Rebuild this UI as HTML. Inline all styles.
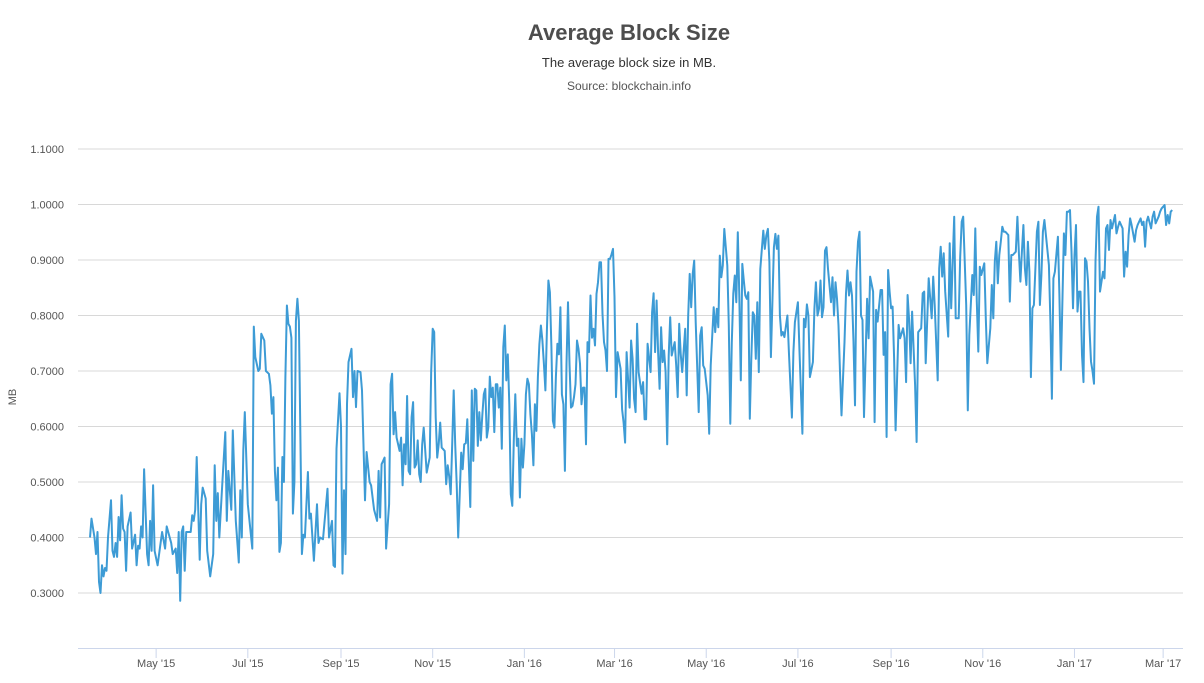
<!DOCTYPE html>
<html><head><meta charset="utf-8">
<style>
body{margin:0;background:#fff;font-family:"Liberation Sans",Arial,sans-serif;}
svg{display:block}
</style></head>
<body>
<svg id="chart" width="1204" height="683" viewBox="0 0 1204 683" xmlns="http://www.w3.org/2000/svg">
<text x="629" y="40" text-anchor="middle" font-size="22" font-weight="bold" fill="#4d4d4d">Average Block Size</text>
<text x="629" y="67" text-anchor="middle" font-size="13" fill="#333">The average block size in MB.</text>
<text x="629" y="90" text-anchor="middle" font-size="12" fill="#555">Source: blockchain.info</text>
<text transform="translate(16,397) rotate(-90)" text-anchor="middle" font-size="11" fill="#555">MB</text>
<g id="grid"></g>
<g id="xaxis"></g>
<g id="yaxis"></g>
<path id="line" fill="none" stroke="#3d9bd5" stroke-width="2" stroke-linejoin="round"></path>
</svg>
<script>
// days since 2015-03-18, values in MB
const days1=[0,1,3,4,5,6,7,8,9,10,
11,12,14,15,16,17,18,19,20,21,
22,23,24,25,27,28,30,31,32,33,
34,35,36,38,39,40,41,42,43,45,
47,48,50,51,53,54,55,57,58,59,
60,61,62,63,64,67,68,69,70,71,
73,74,75,77,78,80,81,82,83,84,
85,86,88,90,91,92,94,95,97,99,
100,101,102,103,105,108,109,110,112,113,
114,116,117,119,120,121,122,123,124,125,
126,127,128,129,130,131,132,133,134,135,
136,137,138,139,141,142,143,145,146,147,
149,151,152,153,155,158,159,161,162,163,
164,166,167,168,169,170,171,172,174,175,
176,177,178,180,181,183,184,186,187,189,
191,192,193];
const values1=[.40,.434,.40,.37,.41,.32,.30,.35,.33,.345,
.34,.40,.467,.376,.365,.39,.365,.437,.395,.476,
.416,.41,.34,.42,.445,.38,.405,.35,.385,.38,
.42,.40,.523,.37,.35,.43,.376,.494,.376,.35,
.39,.41,.38,.42,.40,.39,.37,.38,.336,.41,
.286,.41,.42,.34,.41,.41,.44,.43,.45,.545,
.36,.46,.49,.47,.376,.33,.35,.37,.53,.43,
.48,.40,.497,.59,.43,.52,.45,.593,.43,.355,
.485,.40,.557,.626,.46,.38,.78,.725,.70,.704,
.767,.755,.70,.695,.674,.623,.653,.52,.467,.526,
.374,.39,.545,.50,.69,.818,.785,.78,.76,.443,
.50,.79,.83,.79,.37,.405,.40,.518,.434,.443,
.358,.46,.39,.40,.397,.488,.40,.43,.35,.347,
.56,.66,.60,.335,.485,.37,.64,.716,.74,.653,
.70,.635,.70,.698,.665,.467,.554,.50,.494,.45,
.43,.52,.436];
const days2=[194,196,197,199,200,201,202,203,204,206,
207,208,209,210,211,212,213,214,215,216,
217,218,219,220,221,222,224,226,227,228,
229,230,231,232,233,234,236,237,238,239,
240,241,242,243,244,245,247,248,249,250,
251,253,254,255,256,257,258,259,260,261,
262,263,264,265,266,267,268,269,270,271,
272,273,274,275,276,277,278,279,280,281,
282,283,284,285,286,287,288,289,290,291,
292,293,294,295,296,297,298,299,300,301,
302,303,304,305,306,307,308,309,310,311,
312,313,314,315,316,317,318,319,320,321,
322,323,324,325,326,327,328,329,330,331,
332,333,334,335,336,337,338,339,340,341,
342,343,344,345,346,347,348,349];
const values2=[.532,.544,.38,.46,.676,.695,.586,.626,.58,.556,
.58,.494,.568,.532,.655,.52,.514,.617,.644,.526,
.532,.575,.514,.50,.568,.598,.517,.544,.70,.776,
.77,.617,.544,.568,.607,.562,.556,.496,.53,.51,
.478,.568,.665,.568,.496,.40,.553,.523,.568,.57,
.613,.455,.665,.538,.668,.665,.565,.626,.575,.62,
.658,.668,.58,.598,.69,.653,.67,.59,.676,.676,
.634,.67,.56,.743,.782,.683,.73,.64,.478,.457,
.575,.658,.565,.578,.472,.578,.526,.568,.658,.686,
.676,.622,.586,.53,.64,.592,.69,.749,.782,.755,
.713,.665,.773,.863,.842,.743,.61,.598,.69,.749,
.73,.815,.658,.64,.52,.713,.824,.713,.634,.637,
.653,.676,.755,.74,.713,.64,.67,.67,.568,.752,
.734,.836,.76,.776,.746,.839,.86,.896,.896,.803,
.752,.737,.70,.902,.902,.91,.92,.833];
const days3=[350,351,353,354,355,356,357,359,360,361,
362,363,364,365,367,368,369,370,371,373,
374,375,376,377,378,379,380,381,382,383,
384,385,386,387,389,390,391,392,393,394,
396,397,398,399,400,401,402,403,405,406,
407,408,409,411,412,413,415,416,417,418,
419,420,421,422,424,425,426,427,428,429,
430,431,432,433,434,435,436,437,438,439,
440,441,442,443,444,445,446,448,449,450,
451,452,453,454,455,456,457,458,459,460,
461,462,464,465,467,468,469,471,472,474,
475,476,477,478,479,481,482,483,484,485,
486,487,488,489,490,491,493,494,495,496,
497,498,499,500,502,503,504,505,506,507,
508,509];
const values3=[.653,.734,.704,.631,.607,.571,.734,.634,.755,.722,
.65,.626,.785,.698,.659,.68,.613,.613,.749,.698,
.806,.84,.734,.827,.734,.668,.779,.716,.737,.698,
.568,.728,.797,.728,.752,.71,.653,.785,.731,.698,
.776,.656,.80,.875,.815,.875,.899,.788,.626,.764,
.779,.71,.704,.656,.587,.71,.815,.77,.812,.779,
.908,.869,.89,.956,.89,.782,.605,.752,.84,.872,
.824,.95,.836,.683,.893,.863,.836,.83,.842,.614,
.722,.806,.80,.722,.824,.698,.884,.953,.92,.944,
.956,.896,.725,.824,.923,.947,.92,.944,.80,.764,
.77,.761,.80,.734,.616,.734,.788,.824,.74,.587,
.794,.779,.82,.80,.689,.716,.812,.86,.80,.812,
.863,.797,.815,.917,.923,.884,.824,.869,.80,.86,
.83,.782,.698,.62,.752,.84,.881,.836,.86,.836,
.752,.638];
const days4=[510,511,512,513,514,515,517,518,519,521,
522,523,524,526,527,528,529,530,531,532,
533,534,535,536,538,539,541,542,543,544,
545,546,547,549,550,551,553,554,555,556,
558,560,561,562,564,565,566,567,568,569,
571,572,573,574,575,576,578,579,580,581,
583,584,585,587,588,589,590,591,592,593,
595,596,597,599,600,601,602,603,604,605,
606,607,608,609,611,612,613,614,616,617,
618,619,620,621,622,623,624,625,626,627,
628,630,631,632,633,634,635,636,638,639,
640,641,642,644,645,646,648,649,650,651,
652,653,654,655,656,657,658,659,660,661,
662,663,664,665,666];
const values4=[.879,.933,.951,.80,.792,.617,.83,.759,.87,.843,
.608,.81,.789,.846,.846,.729,.77,.581,.882,.843,
.813,.816,.723,.593,.783,.759,.777,.759,.68,.837,
.792,.714,.807,.674,.572,.77,.777,.84,.843,.714,
.867,.795,.87,.819,.683,.885,.924,.87,.912,.843,
.762,.93,.813,.897,.978,.795,.795,.906,.969,.978,
.819,.629,.765,.873,.837,.957,.825,.735,.888,.873,
.894,.795,.714,.777,.855,.795,.897,.933,.858,.909,
.933,.96,.951,.951,.945,.825,.909,.909,.915,.978,
.912,.861,.915,.963,.885,.855,.933,.879,.689,.813,
.819,.951,.969,.819,.873,.951,.972,.945,.891,.789,
.65,.867,.879,.942,.837,.702,.948,.909,.987,.987,
.99,.915,.813,.909,.963,.807,.843,.843,.729,.68,
.903,.897,.861,.777,.717];
const days5=[667,668,669,670,671,672,674,675,676,677,
678,679,680,681,682,683,684,685,687,688,
689,690,691,692,693,695,696,697,699,700,
701,702,703,704,706,707,708,709,711,712,
713,715,716,717,718,719,720];
const values5=[.70,.677,.897,.978,.996,.843,.879,.867,.957,.963,
.918,.972,.957,.969,.981,.948,.96,.969,.957,.87,
.915,.888,.945,.975,.963,.933,.954,.963,.975,.963,
.969,.924,.969,.978,.957,.978,.987,.966,.978,.987,
.993,.999,.963,.981,.966,.987,.99];
const yTicks=[0.3,0.4,0.5,0.6,0.7,0.8,0.9,1.0,1.1];
const xTickDays=[44,105,167,228,289,349,410,471,533,594,655,714];
const xTickLabels=["May '15","Jul '15","Sep '15","Nov '15","Jan '16","Mar '16","May '16","Jul '16","Sep '16","Nov '16","Jan '17","Mar '17"];

const NS="http://www.w3.org/2000/svg";
function xScale(d){return 90+d*1.503;}
function yScale(v){return 593-(v-0.3)*555;}
const days=days1.concat(days2,days3,days4,days5);
const values=values1.concat(values2,values3,values4,values5);

const grid=document.getElementById('grid');
const yaxis=document.getElementById('yaxis');
yTicks.forEach(v=>{
  const y=yScale(v);
  const l=document.createElementNS(NS,'line');
  l.setAttribute('x1',78);l.setAttribute('x2',1183);
  l.setAttribute('y1',y);l.setAttribute('y2',y);
  l.setAttribute('stroke','#d8d8d8');l.setAttribute('stroke-width',1);
  
  
  grid.appendChild(l);
  const t=document.createElementNS(NS,'text');
  t.setAttribute('x',64);t.setAttribute('y',y+4);
  t.setAttribute('text-anchor','end');t.setAttribute('font-size','11');t.setAttribute('fill','#555');
  t.textContent=v.toFixed(4);
  
  
  yaxis.appendChild(t);
});
const xaxis=document.getElementById('xaxis');
const al=document.createElementNS(NS,'line');
al.setAttribute('x1',78);al.setAttribute('x2',1183);al.setAttribute('y1',648.5);al.setAttribute('y2',648.5);
al.setAttribute('stroke','#ccd6eb');al.setAttribute('stroke-width',1);


xaxis.appendChild(al);
xTickDays.forEach((d,i)=>{
  const x=xScale(d);
  const tk=document.createElementNS(NS,'line');
  tk.setAttribute('x1',x);tk.setAttribute('x2',x);tk.setAttribute('y1',648);tk.setAttribute('y2',658);
  tk.setAttribute('stroke','#ccd6eb');
  
  
  xaxis.appendChild(tk);
  const t=document.createElementNS(NS,'text');
  t.setAttribute('x',x);t.setAttribute('y',667);
  t.setAttribute('text-anchor','middle');t.setAttribute('font-size','11');t.setAttribute('fill','#555');
  t.textContent=xTickLabels[i];
  
  
  xaxis.appendChild(t);
});
let dstr='';
const n=Math.min(days.length,values.length);
for(let i=0;i<n;i++){
  dstr+=(i?'L':'M')+xScale(days[i]).toFixed(1)+' '+yScale(values[i]).toFixed(1);
}
document.getElementById('line').setAttribute('d',dstr);
</script>
</body></html>
